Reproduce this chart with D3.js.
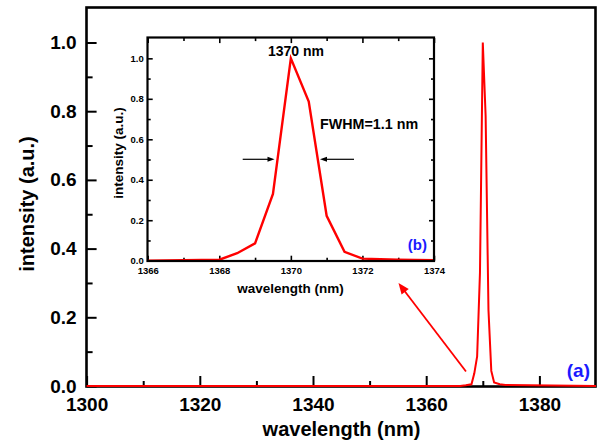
<!DOCTYPE html>
<html><head><meta charset="utf-8">
<script src="https://cdn.jsdelivr.net/npm/d3@7"></script>
<style>
body{margin:0;background:#fff;}
svg{display:block;font-family:"Liberation Sans",Arial,sans-serif;font-weight:bold;}
</style></head>
<body>
<script>
// Spectrum data (nm, normalized intensity)
const wavelength = [1300, 1366, 1367, 1368, 1368.5, 1369, 1369.5, 1370, 1370.5, 1371, 1371.5, 1372, 1373, 1374, 1390];
const intensity  = [0,    0,    0.002, 0.005, 0.037, 0.086, 0.33, 1.0,  0.786,  0.222, 0.044, 0.01, 0.005, 0.003, 0];
const mainXTicks = [1300, 1320, 1340, 1360, 1380];
const mainXMinor = [1310, 1330, 1350, 1370];
const mainYTicks = [0.0, 0.2, 0.4, 0.6, 0.8, 1.0];
const mainYMinor = [0.1, 0.3, 0.5, 0.7, 0.9];
const insetXTicks = [1366, 1368, 1370, 1372, 1374];
const insetXMinor = [1367, 1369, 1371, 1373];
const insetYTicks = [0.0, 0.2, 0.4, 0.6, 0.8, 1.0];
const insetYMinor = [0.1, 0.3, 0.5, 0.7, 0.9];
const peakLabel = "1370 nm";
const fwhmLabel = "FWHM=1.1 nm";

const data = wavelength.map((w,i)=>({w, v:intensity[i]}));
const W=597,H=444;
const svg=d3.select("body").append("svg").attr("width",W).attr("height",H);

function fixAxis(g,fs,sw){
  g.select(".domain").remove();
  g.selectAll(".tick line").attr("stroke","#000").attr("stroke-width",sw);
  g.selectAll(".tick text").attr("font-size",fs).attr("fill","#000");
}

// ---- main plot ----
const x=d3.scaleLinear([1300,1390],[86.6,596]);
const y=d3.scaleLinear([0,1.1],[386,8.15]);
const gM=svg.append("g");
gM.append("g").attr("transform",`translate(${x(1300)},0)`)
  .call(d3.axisLeft(y).tickValues(mainYMinor).tickSizeInner(-6).tickSizeOuter(0).tickFormat(""))
  .call(g=>fixAxis(g,19,2));
gM.append("g").attr("transform",`translate(0,${y(0)})`)
  .call(d3.axisBottom(x).tickValues(mainXMinor).tickSizeInner(-5).tickSizeOuter(0).tickFormat(""))
  .call(g=>fixAxis(g,19,2));
gM.append("g").attr("transform",`translate(${x(1300)},0)`)
  .call(d3.axisLeft(y).tickValues(mainYTicks).tickSizeInner(-10).tickSizeOuter(0).tickPadding(10).tickFormat(d3.format(".1f")))
  .call(g=>fixAxis(g,19,2));
gM.append("g").attr("transform",`translate(0,${y(0)})`)
  .call(d3.axisBottom(x).tickValues(mainXTicks).tickSizeInner(-10).tickSizeOuter(0).tickPadding(12).tickFormat(d3.format("d")))
  .call(g=>fixAxis(g,19,2));
gM.append("rect").attr("x",86.5).attr("y",7.5).attr("width",595.5-86.5).attr("height",386.5-7.5)
  .attr("fill","none").attr("stroke","#000").attr("stroke-width",2.6);
gM.append("path").datum(data)
  .attr("d",d3.line().x(d=>x(d.w)).y(d=>y(d.v)))
  .attr("fill","none").attr("stroke","#ff0000").attr("stroke-width",2);

gM.append("text").attr("x",341.5).attr("y",436).attr("text-anchor","middle")
  .attr("font-size",20).text("wavelength (nm)");
gM.append("text").attr("transform","translate(34,204) rotate(-90)").attr("text-anchor","middle")
  .attr("font-size",20).text("intensity (a.u.)");
gM.append("text").attr("x",590).attr("y",377).attr("text-anchor","end").attr("font-size",19)
  .attr("fill","#1a1aff").text("(a)");

function arrow(g,x1,y1,x2,y2,color,sw,hl,hw){
  const a=Math.atan2(y2-y1,x2-x1), c=Math.cos(a), s=Math.sin(a);
  const bx=x2-hl*c, by=y2-hl*s;
  g.append("line").attr("x1",x1).attr("y1",y1).attr("x2",bx+c).attr("y2",by+s)
    .attr("stroke",color).attr("stroke-width",sw);
  g.append("path").attr("d",`M${x2},${y2}L${bx-hw*s},${by+hw*c}L${bx+hw*s},${by-hw*c}Z`).attr("fill",color);
}
arrow(gM,466,371.5,398.5,283,"#ff0000",1.8,11,4.5);

// ---- inset ----
const xi=d3.scaleLinear([1366,1374],[147.7,434]);
const yi=d3.scaleLinear([0,1.1],[260.7,38.1]);
const gI=svg.append("g");
gI.append("rect").attr("x",147.5).attr("y",37.5).attr("width",434-147.5).attr("height",261-37.5).attr("fill","#fff");
function insetTicks(axisFn,pos,scale,vals,size,fmt,pad){
  gI.append("g").attr("transform",pos)
    .call(axisFn(scale).tickValues(vals).tickSizeInner(size).tickSizeOuter(0).tickPadding(pad||3).tickFormat(fmt||""))
    .call(g=>fixAxis(g,9.5,1.6));
}
insetTicks(d3.axisLeft,`translate(${xi(1366)},0)`,yi,insetYTicks,-5,d3.format(".1f"),4);
insetTicks(d3.axisLeft,`translate(${xi(1366)},0)`,yi,insetYMinor,-3);
insetTicks(d3.axisRight,`translate(${xi(1374)},0)`,yi,insetYTicks,-5);
insetTicks(d3.axisRight,`translate(${xi(1374)},0)`,yi,insetYMinor,-3);
insetTicks(d3.axisBottom,`translate(0,${yi(0)})`,xi,insetXTicks,-5,d3.format("d"),7);
insetTicks(d3.axisBottom,`translate(0,${yi(0)})`,xi,insetXMinor,-3);
insetTicks(d3.axisTop,`translate(0,${yi(1.1)})`,xi,insetXTicks,-5);
insetTicks(d3.axisTop,`translate(0,${yi(1.1)})`,xi,insetXMinor,-3);

gI.append("path").datum(data.filter(d=>d.w>=1366&&d.w<=1374))
  .attr("d",d3.line().x(d=>xi(d.w)).y(d=>yi(d.v)))
  .attr("fill","none").attr("stroke","#ff0000").attr("stroke-width",2.4);
gI.append("rect").attr("x",147.5).attr("y",37.5).attr("width",434-147.5).attr("height",261-37.5)
  .attr("fill","none").attr("stroke","#000").attr("stroke-width",2.2);

gI.append("text").attr("x",290.5).attr("y",293).attr("text-anchor","middle").attr("font-size",13.5).text("wavelength (nm)");
gI.append("text").attr("transform","translate(123,153) rotate(-90)").attr("text-anchor","middle").attr("font-size",13.5).text("intensity (a.u.)");
gI.append("text").attr("x",296).attr("y",56).attr("text-anchor","middle").attr("font-size",14).text(peakLabel);
gI.append("text").attr("x",320).attr("y",129).attr("font-size",14.3).text(fwhmLabel);
gI.append("text").attr("x",427).attr("y",250).attr("text-anchor","end").attr("font-size",15).attr("fill","#1a1aff").text("(b)");
arrow(gI,242.7,159.3,274.5,159.3,"#000",1.2,7,2.5);
arrow(gI,354,159.3,320,159.3,"#000",1.2,7,2.5);
</script>
</body></html>
